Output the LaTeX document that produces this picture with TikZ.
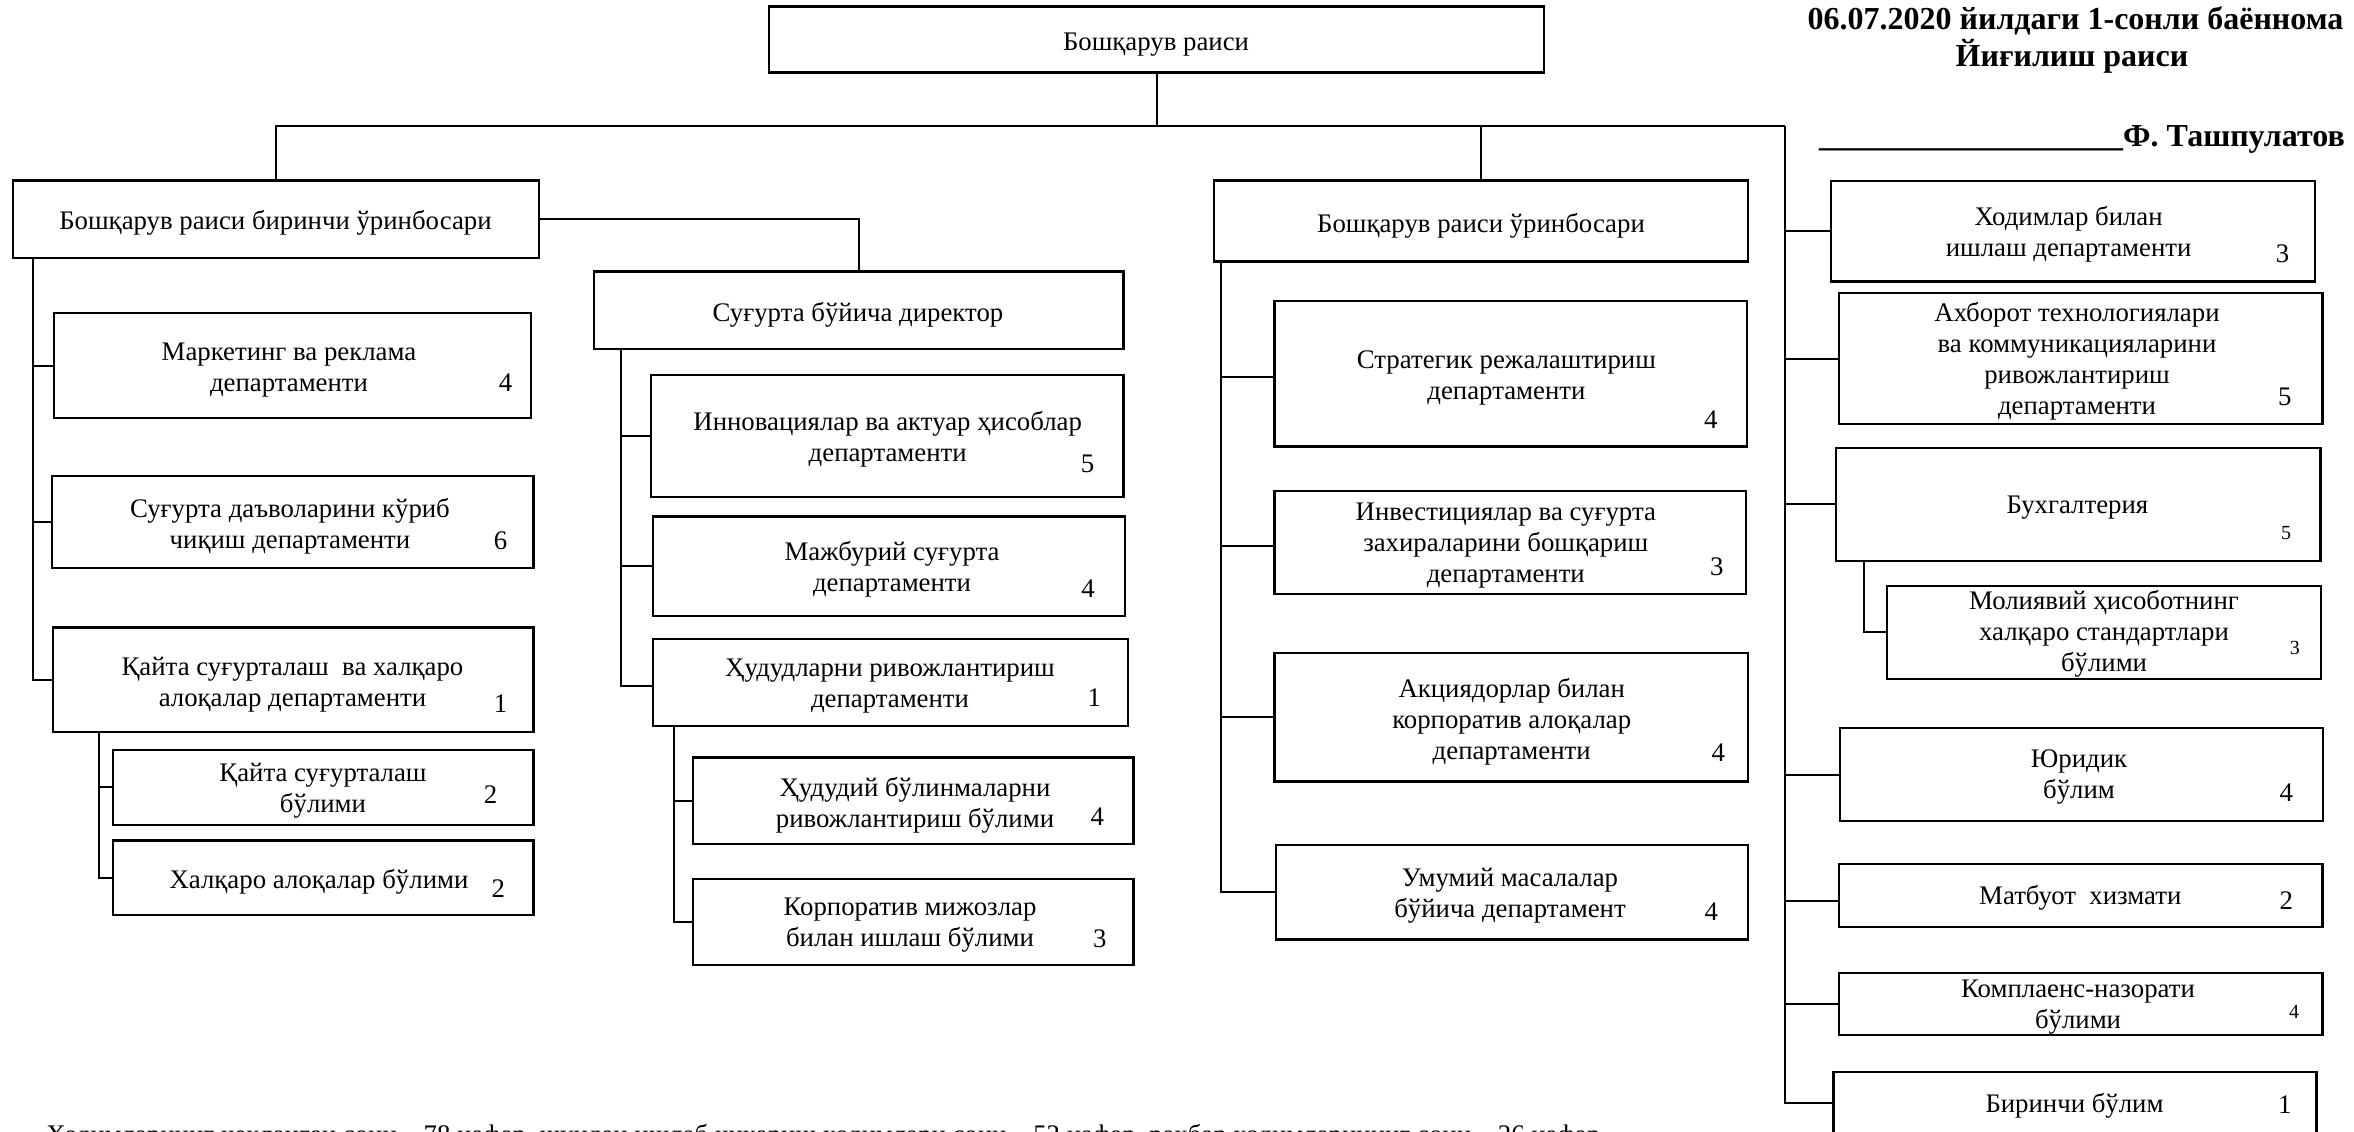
\documentclass[tikz,border=0pt]{standalone}
\usepackage{fontspec}
\setmainfont{Liberation Serif}
\usetikzlibrary{fit}
\newcommand\orgbox[8]{%
  \coordinate (#1-a) at (#2,#3);
  \coordinate (#1-b) at (#4,#5);
  \node[box, fit=(#1-a)(#1-b)] (#1) {};
  \node[txt] (#1-t) at (#6,#7) {#8};
}
\begin{document}
\begin{tikzpicture}[x=0.5pt,y=-0.5pt,
  box/.style={draw, line width=1.1pt, inner sep=0pt},
  txt/.style={align=center, font=\fontsize{13.4}{15.5}\selectfont, inner sep=0pt},
  foottxt/.style={font=\fontsize{13.4}{15.5}\selectfont, inner sep=0pt},
  num/.style={font=\fontsize{13.4}{15}\selectfont, inner sep=0pt},
  snum/.style={font=\fontsize{10}{12}\selectfont, inner sep=0pt},
  hdr/.style={font=\fontsize{16}{18}\selectfont\bfseries, inner sep=0pt},
  conn/.style={line width=1pt}]
\useasboundingbox (0,0) rectangle (2354,1131);

% top and deputies
\orgbox{tb}{769}{6.4}{1544}{72.5}{1156}{44.5}{Бошқарув раиси}
\orgbox{fd}{13}{180.4}{538.8}{257.9}{275.5}{223}{Бошқарув раиси биринчи ўринбосари}
\orgbox{id}{593.9}{271.4}{1123.5}{349}{858}{315}{Суғурта бўйича директор}
\orgbox{dp}{1213.7}{180.4}{1748}{261.4}{1481}{226}{Бошқарув раиси ўринбосари}

% first deputy column
\orgbox{mk}{53.6}{313.2}{531}{417.9}{289}{370.5}{Маркетинг ва реклама\\департаменти}
\node[num] (mk-n) at (505.5,382.5) {4};
\orgbox{cl}{52}{476}{533.4}{568}{290}{526.5}{Суғурта даъволарини кўриб\\чиқиш департаменти}
\node[num] (cl-n) at (500.6,541) {6};
\orgbox{rd}{52.8}{627.4}{533.4}{731.9}{292.5}{685}{Қайта суғурталаш\ \ ва халқаро\\алоқалар департаменти}
\node[num] (rd-n) at (500.5,703.8) {1};
\orgbox{rs}{113.3}{749.7}{533.4}{824.7}{323}{791}{Қайта суғурталаш\\бўлими}
\node[num] (rs-n) at (490.6,794.9) {2};
\orgbox{ir}{113.3}{840.4}{533.4}{915}{319}{882}{Халқаро алоқалар бўлими}
\node[num] (ir-n) at (498.2,888.8) {2};

% insurance director column
\orgbox{in}{651.3}{375}{1123.5}{497}{887.7}{439.5}{Инновациялар ва актуар ҳисоблар\\департаменти}
\node[num] (in-n) at (1087.5,464.3) {5};
\orgbox{cp}{652.8}{516.4}{1125}{615.7}{892}{569.5}{Мажбурий суғурта\\департаменти}
\node[num] (cp-n) at (1088,589) {4};
\orgbox{rg}{652.8}{638.7}{1128}{726}{890}{686}{Ҳудудларни ривожлантириш\\департаменти}
\node[num] (rg-n) at (1094.4,697.7) {1};
\orgbox{rb}{692.6}{757.4}{1133.4}{844}{915}{805}{Ҳудудий бўлинмаларни\\ривожлантириш бўлими}
\node[num] (rb-n) at (1097.4,816.7) {4};
\orgbox{cc}{692.6}{878.6}{1133.4}{965.3}{910}{925.5}{Корпоратив мижозлар\\билан ишлаш бўлими}
\node[num] (cc-n) at (1099.7,938.7) {3};

% deputy column
\orgbox{sp}{1274.4}{300.7}{1746.6}{446.4}{1506.4}{377.5}{Стратегик режалаштириш\\департаменти}
\node[num] (sp-n) at (1710.8,420) {4};
\orgbox{iv}{1274.4}{491}{1745.9}{593.9}{1505.8}{546}{Инвестициялар ва суғурта\\захираларини бошқариш\\департаменти}
\node[num] (iv-n) at (1716.7,567) {3};
\orgbox{sh}{1274.4}{653.2}{1748.2}{781.4}{1511.7}{722}{Акциядорлар билан\\корпоратив алоқалар\\департаменти}
\node[num] (sh-n) at (1718.2,753) {4};
\orgbox{gn}{1276}{844.8}{1748}{939.5}{1510}{896}{Умумий масалалар\\бўйича департамент}
\node[num] (gn-n) at (1711.3,911.4) {4};

% right column
\orgbox{hr}{1831}{181}{2315}{281.4}{2068.6}{234}{Ходимлар билан\\ишлаш департаменти}
\node[num] (hr-n) at (2282.6,253.6) {3};
\orgbox{it}{1838.8}{292.9}{2322.5}{424.3}{2077}{361}{Ахборот технологиялари\\ва коммуникацияларини\\ривожлантириш\\департаменти}
\node[num] (it-n) at (2284.9,396.4) {5};
\orgbox{ac}{1836.3}{447.7}{2320.4}{561}{2077.4}{508}{Бухгалтерия}
\node[snum] (ac-n) at (2286,532.7) {5};
\orgbox{fr}{1886.8}{585.7}{2321.2}{678.7}{2104}{634}{Молиявий ҳисоботнинг\\халқаро стандартлари\\бўлими}
\node[snum] (fr-n) at (2294.8,648.3) {3};
\orgbox{lg}{1839.6}{728.2}{2323.3}{821.1}{2079}{777}{Юридик\\бўлим}
\node[num] (lg-n) at (2286.4,793) {4};
\orgbox{pr}{1838.8}{864}{2322.5}{927}{2080.3}{898}{Матбуот\ \ хизмати}
\node[num] (pr-n) at (2286.4,900.5) {2};
\orgbox{cm}{1838.8}{973.3}{2322.5}{1035.2}{2078}{1007.5}{Комплаенс-назорати\\бўлими}
\node[snum] (cm-n) at (2294.1,1011.6) {4};
\orgbox{fb}{1833.4}{1071.7}{2316.4}{1134}{2074.5}{1106}{Биринчи бўлим}
\node[num] (fb-n) at (2284.9,1104.4) {1};

% header
\node[hdr, anchor=base] (h1) at (2075.5,29) {06.07.2020 йилдаги 1-сонли баённома};
\node[hdr, anchor=base] (h2) at (2072,66.4) {Йиғилиш раиси};
\node[hdr, anchor=base] (h3) at (2082,146.4) {\_\_\_\_\_\_\_\_\_\_\_\_\_\_\_\_\_\_\_Ф. Ташпулатов};

% footer (cut by the page edge, as in the original)
\node[foottxt, anchor=base west] (foot) at (46,1143) {Ходимларнинг чекланган сони -- 78 нафар, шундан ишлаб чиқариш ходимлари сони -- 52 нафар, раҳбар ходимларининг сони -- 26 нафар.};

% spine coordinates
\coordinate (rt) at (1785,126.4);
\coordinate (s1) at (33,0);
\coordinate (s2) at (98.7,0);
\coordinate (s3) at (621.4,0);
\coordinate (s4) at (673.5,0);
\coordinate (s5) at (1864,0);
\coordinate (s6) at (1220.6,0);

% connectors
\draw[conn] (tb.south) -- (tb.south |- rt);
\draw[conn] (fd.north) |- (rt);
\draw[conn] (dp.north) -- (dp.north |- rt);
\draw[conn] (rt) |- (fb.west);
\draw[conn] (rt |- hr.west) -- (hr.west);
\draw[conn] (rt |- it.west) -- (it.west);
\draw[conn] (rt |- ac.west) -- (ac.west);
\draw[conn] (rt |- lg.west) -- (lg.west);
\draw[conn] ([yshift=-2.5pt]rt |- pr.west) -- ([yshift=-2.5pt]pr.west);
\draw[conn] (rt |- cm.west) -- (cm.west);
\draw[conn] (s5 |- ac.south) |- (fr.west);

\draw[conn] (fd.east) -| (id.north);
\draw[conn] (s1 |- fd.south) |- (rd.west);
\draw[conn] (s1 |- mk.west) -- (mk.west);
\draw[conn] (s1 |- cl.west) -- (cl.west);
\draw[conn] (s2 |- rd.south) |- (ir.west);
\draw[conn] (s2 |- rs.west) -- (rs.west);

\draw[conn] (s3 |- id.south) |- ([yshift=-2pt]rg.west);
\draw[conn] (s3 |- in.west) -- (in.west);
\draw[conn] (s3 |- cp.west) -- (cp.west);
\draw[conn] (s4 |- rg.south) |- (cc.west);
\draw[conn] (s4 |- rb.west) -- (rb.west);

\draw[conn] (s6 |- dp.south) |- (gn.west);
\draw[conn] ([yshift=-1.5pt]s6 |- sp.west) -- ([yshift=-1.5pt]sp.west);
\draw[conn] ([yshift=-1.75pt]s6 |- iv.west) -- ([yshift=-1.75pt]iv.west);
\draw[conn] (s6 |- sh.west) -- (sh.west);
\end{tikzpicture}
\end{document}
